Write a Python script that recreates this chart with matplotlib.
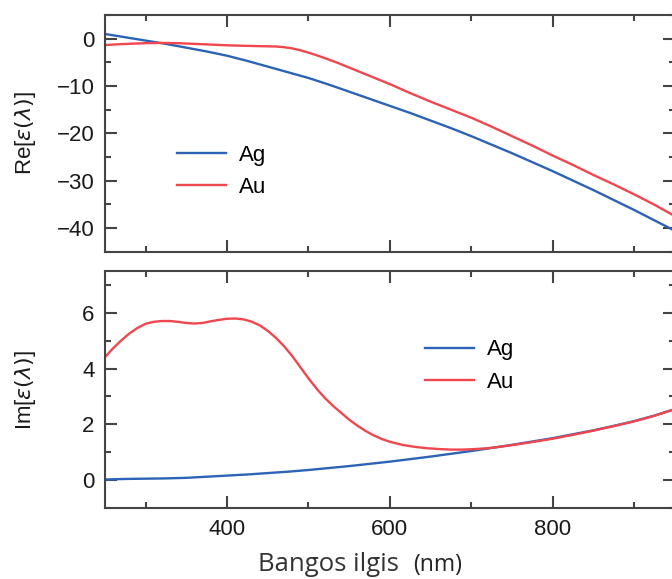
import numpy as np
import matplotlib
matplotlib.use("Agg")
import matplotlib.pyplot as plt
from matplotlib.ticker import MultipleLocator

plt.rcParams['font.family'] = ['Liberation Sans', 'DejaVu Sans']
plt.rcParams['mathtext.fontset'] = 'dejavusans'

# dielectric function of silver and gold, read per wavelength (nm)
wl_ag = [250, 275, 300, 325, 350, 375, 400, 425, 450, 475, 500, 525, 550, 575, 600,
         625, 650, 675, 700, 725, 750, 775, 800, 825, 850, 875, 900, 925, 950]
re_ag = [1.0, 0.3, -0.4, -1.1, -1.9, -2.7, -3.6, -4.7, -5.9, -7.1, -8.3, -9.7, -11.2,
         -12.7, -14.2, -15.7, -17.3, -18.9, -20.6, -22.4, -24.2, -26.1, -28.0, -30.0,
         -32.0, -34.1, -36.2, -38.4, -40.6]
im_ag = [0.03, 0.05, 0.06, 0.07, 0.09, 0.13, 0.17, 0.21, 0.26, 0.31, 0.37, 0.44, 0.51,
         0.59, 0.67, 0.76, 0.85, 0.95, 1.05, 1.16, 1.27, 1.39, 1.51, 1.65, 1.79, 1.95,
         2.12, 2.32, 2.55]

wl_au_re = [250, 265, 280, 300, 320, 340, 360, 380, 400, 420, 440, 460, 470, 480, 490,
            500, 510, 520, 535, 550, 575, 600, 625, 650, 675, 700, 725, 750, 775, 800,
            825, 850, 875, 900, 925, 950]
re_au = [-1.35, -1.2, -1.08, -0.95, -0.9, -0.95, -1.1, -1.25, -1.4, -1.5, -1.58, -1.65,
         -1.8, -2.05, -2.45, -2.95, -3.5, -4.1, -5.05, -6.1, -7.85, -9.6, -11.5, -13.3,
         -15.0, -16.7, -18.6, -20.6, -22.6, -24.7, -26.7, -28.8, -30.8, -32.9, -35.1,
         -37.5]

wl_au_im = [250, 260, 270, 280, 290, 300, 310, 320, 330, 340, 350, 360, 370, 380, 390,
            400, 410, 420, 430, 440, 450, 460, 470, 480, 490, 500, 510, 520, 530, 540,
            550, 560, 570, 580, 590, 600, 615, 630, 645, 660, 675, 690, 705, 720, 735,
            750, 775, 800, 825, 850, 875, 900, 925, 950]
im_au = [4.4, 4.72, 5.0, 5.25, 5.45, 5.6, 5.67, 5.70, 5.70, 5.67, 5.63, 5.61, 5.63,
         5.69, 5.74, 5.78, 5.79, 5.76, 5.68, 5.55, 5.35, 5.10, 4.80, 4.45, 4.05, 3.65,
         3.28, 2.95, 2.67, 2.42, 2.17, 1.96, 1.77, 1.61, 1.48, 1.38, 1.27, 1.20, 1.15,
         1.12, 1.10, 1.10, 1.12, 1.15, 1.20, 1.26, 1.37, 1.49, 1.63, 1.78, 1.94, 2.11,
         2.31, 2.55]

blue = '#2c63b6'
red = '#f0474f'
spine_col = '#444444'

fig = plt.figure(figsize=(6.72, 5.79), dpi=100)
W, H = 672.0, 579.0
x0, x1 = 104.8, 675.0
ax1 = fig.add_axes([x0 / W, 1 - 251.7 / H, (x1 - x0) / W, (251.7 - 15) / H])
ax2 = fig.add_axes([x0 / W, 1 - 508.3 / H, (x1 - x0) / W, (508.3 - 270.7) / H])

ax1.plot(wl_ag, re_ag, color=blue, lw=1.7, label='Ag')
ax1.plot(wl_au_re, re_au, color=red, lw=1.7, label='Au')
ax2.plot(wl_ag, im_ag, color=blue, lw=1.7, label='Ag')
ax2.plot(wl_au_im, im_au, color=red, lw=1.7, label='Au')

ax1.set_ylim(-45, 5)
ax2.set_ylim(-1, 7.5)
ax1.yaxis.set_major_locator(MultipleLocator(10))
ax1.yaxis.set_minor_locator(MultipleLocator(5))
ax2.yaxis.set_major_locator(MultipleLocator(2))
ax2.yaxis.set_minor_locator(MultipleLocator(1))

for ax in (ax1, ax2):
    ax.set_xlim(250, 950)
    ax.xaxis.set_major_locator(MultipleLocator(200))
    ax.xaxis.set_minor_locator(MultipleLocator(100))
    ax.tick_params(which='both', direction='in', top=True, right=True,
                   color=spine_col, width=1.5, labelsize=16, labelcolor='#1a1a1a')
    ax.tick_params(which='major', length=8.6)
    ax.tick_params(which='minor', length=4.3)
    ax.tick_params(axis='y', pad=7.5)
    ax.tick_params(axis='x', pad=7.5)
    for sp in ax.spines.values():
        sp.set_color(spine_col)
        sp.set_linewidth(1.5)
    ax.yaxis.set_label_coords(-0.118, 0.5)

ax1.tick_params(labelbottom=False)

ax1.set_ylabel(r'Re[$\varepsilon(\lambda)$]', fontsize=16, color='#1a1a1a')
ax2.set_ylabel(r'Im[$\varepsilon(\lambda)$]', fontsize=16, color='#1a1a1a')

leg_kw = dict(frameon=False, fontsize=16, handlelength=2.2, handletextpad=0.6,
              labelspacing=0.5, loc='center left', borderaxespad=0)
ax1.legend(bbox_to_anchor=(0.111, 0.339), **leg_kw)
ax2.legend(bbox_to_anchor=(0.546, 0.599), **leg_kw)

fig.text(258 / W, 1 - 571 / H, 'Bangos ilgis', family='Open Sans', fontsize=18.5,
         color='#333333', ha='left', va='baseline')
fig.text(413 / W, 1 - 571 / H, '(nm)', family='Open Sans', fontsize=16.5,
         color='#222222', ha='left', va='baseline')

fig.savefig('out.png', dpi=100)
